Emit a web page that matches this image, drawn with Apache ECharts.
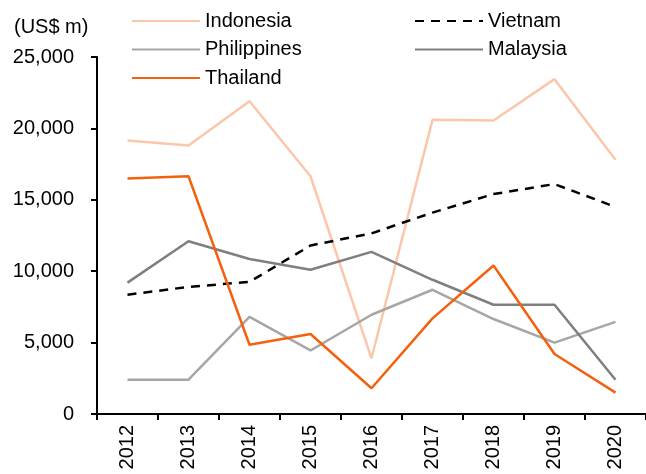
<!DOCTYPE html>
<html>
<head>
<meta charset="utf-8">
<script src="https://cdn.jsdelivr.net/npm/echarts@6/dist/echarts.min.js"></script>
<style>
  html, body { margin: 0; padding: 0; background: #fff; }
  #chart { width: 646px; height: 474px; }
</style>
</head>
<body>
<div id="chart"></div>
<script>
  // data (US$ m)
  const years = ['2012', '2013', '2014', '2015', '2016', '2017', '2018', '2019', '2020'];
  const indonesia = [19150, 18800, 21900, 16650, 3900, 20600, 20550, 23450, 17800];
  const vietnam = [8350, 8900, 9250, 11800, 12650, 14100, 15400, 16100, 14500];
  const philippines = [2400, 2400, 6800, 4450, 6950, 8700, 6650, 5000, 6450];
  const malaysia = [9200, 12100, 10850, 10100, 11350, 9400, 7650, 7650, 2400];
  const thailand = [16500, 16650, 4850, 5600, 1800, 6700, 10400, 4200, 1500];

  const font = 'Liberation Sans, Arial, sans-serif';
  const chart = echarts.init(document.getElementById('chart'));

  const line = (name, data, color, type) => ({
    name: name,
    type: 'line',
    data: data,
    symbol: 'none',
    lineStyle: { color: color, width: 2.5, type: type || 'solid' },
    itemStyle: { color: color }
  });

  const legendBase = {
    orient: 'vertical',
    top: 6,
    itemWidth: 68,
    itemHeight: 14,
    itemGap: 8.5,
    itemStyle: { opacity: 0 },
    textStyle: { fontFamily: font, fontSize: 20, color: '#000' }
  };

  chart.setOption({
    animation: false,
    backgroundColor: '#fff',
    textStyle: { fontFamily: font },
    legend: [
      Object.assign({}, legendBase, { left: 126, data: ['Indonesia', 'Philippines', 'Thailand'] }),
      Object.assign({}, legendBase, { left: 409, data: ['Vietnam', 'Malaysia'] })
    ],
    graphic: [{
      type: 'text',
      left: 14,
      top: 17,
      style: { text: '(US$ m)', font: '20px ' + font, fill: '#000' }
    }],
    grid: { left: 97, top: 57, width: 552, height: 357, containLabel: false },
    xAxis: {
      type: 'category',
      data: years,
      boundaryGap: true,
      axisLine: { lineStyle: { color: '#000', width: 2 } },
      axisTick: { show: true, length: 6, lineStyle: { color: '#000', width: 2 } },
      axisLabel: { rotate: 90, fontSize: 20, color: '#000', fontFamily: font, margin: 11 },
      splitLine: { show: false }
    },
    yAxis: {
      type: 'value',
      min: 0,
      max: 25000,
      interval: 5000,
      axisLine: { show: true, lineStyle: { color: '#000', width: 2 } },
      axisTick: { show: true, length: 6, lineStyle: { color: '#000', width: 2 } },
      axisLabel: {
        fontSize: 20, color: '#000', fontFamily: font, margin: 23,
        formatter: v => v.toLocaleString('en-US')
      },
      splitLine: { show: false }
    },
    series: [
      line('Indonesia', indonesia, '#fbc6a9'),
      line('Vietnam', vietnam, '#000000', [9, 7]),
      line('Philippines', philippines, '#a6a6a6'),
      line('Malaysia', malaysia, '#7f7f7f'),
      line('Thailand', thailand, '#f5600f')
    ]
  });
</script>
</body>
</html>
